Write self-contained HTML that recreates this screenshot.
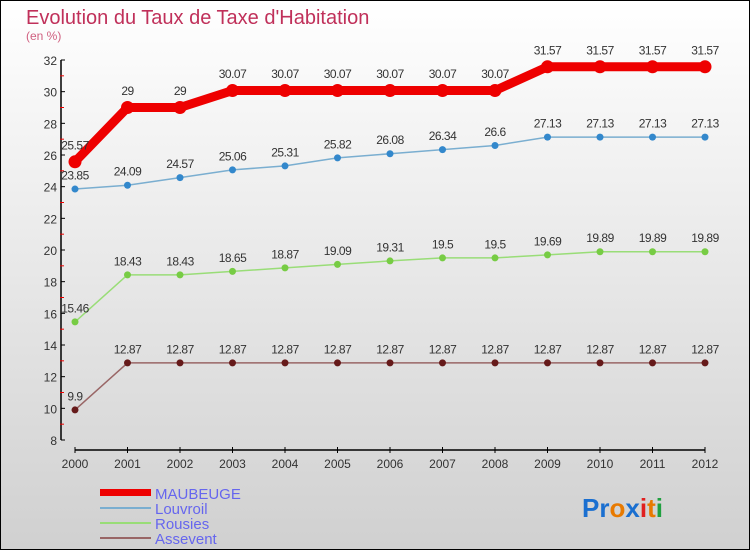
<!DOCTYPE html>
<html><head><meta charset="utf-8"><style>
body{margin:0}
#c{width:750px;height:550px;position:relative;overflow:hidden}
</style></head><body>
<div id="c">
<svg id="s" width="750" height="550" xmlns="http://www.w3.org/2000/svg" font-family="Liberation Sans, sans-serif">
<defs><linearGradient id="bg" x1="0" y1="0" x2="0" y2="1"><stop offset="0" stop-color="#ffffff"/><stop offset="1" stop-color="#d0d0d0"/></linearGradient></defs>
<rect x="0.5" y="0.5" width="749" height="549" fill="url(#bg)" stroke="#000"/>
<text x="26" y="24" font-size="20" fill="#c0305a">Evolution du Taux de Taxe d'Habitation</text>
<text x="26" y="40" font-size="12" fill="#d06080">(en %)</text>
<g id="axes"></g><g id="series"></g>
<g>
<rect x="100" y="489" width="51" height="7" fill="#ee0000"/>
<text x="155" y="499" font-size="15" fill="#6666ee">MAUBEUGE</text>
<line x1="100" y1="508" x2="151" y2="508" stroke="#7aaed0" stroke-width="2"/>
<text x="155" y="514" font-size="15" fill="#6666ee">Louvroil</text>
<line x1="100" y1="523" x2="151" y2="523" stroke="#99dd77" stroke-width="2"/>
<text x="155" y="529" font-size="15" fill="#6666ee">Rousies</text>
<line x1="100" y1="538" x2="151" y2="538" stroke="#996666" stroke-width="2"/>
<text x="155" y="544" font-size="15" fill="#6666ee">Assevent</text>
</g>
<g font-size="26" font-weight="bold">
<text x="582" y="517"><tspan fill="#1a6fd0">Pr</tspan><tspan fill="#e87a00">o</tspan><tspan fill="#1a6fd0">x</tspan><tspan fill="#e02020">i</tspan><tspan fill="#e87a00">t</tspan><tspan fill="#20a040">i</tspan></text>
</g>
</svg></div>
<script>
const years=[2000,2001,2002,2003,2004,2005,2006,2007,2008,2009,2010,2011,2012];
const maubeuge=[25.57,29,29,30.07,30.07,30.07,30.07,30.07,30.07,31.57,31.57,31.57,31.57];
const louvroil=[23.85,24.09,24.57,25.06,25.31,25.82,26.08,26.34,26.6,27.13,27.13,27.13,27.13];
const rousies=[15.46,18.43,18.43,18.65,18.87,19.09,19.31,19.5,19.5,19.69,19.89,19.89,19.89];
const assevent=[9.9,12.87,12.87,12.87,12.87,12.87,12.87,12.87,12.87,12.87,12.87,12.87,12.87];
const yTicks=[8,10,12,14,16,18,20,22,24,26,28,30,32];
const NS='http://www.w3.org/2000/svg';
const x=i=>75+i*(630/(years.length-1));
const y=v=>440-(v-8)*(380/24);
function mk(t,a,p){const e=document.createElementNS(NS,t);for(const k in a)e.setAttribute(k,a[k]);p.appendChild(e);return e;}
const ax=document.getElementById('axes');
const ya=mk('line',{x1:61,y1:60,x2:61,y2:440,stroke:'#000','stroke-width':1.5},ax);


const xa=mk('line',{x1:75,y1:450,x2:705,y2:450,stroke:'#000','stroke-width':1.5},ax);


yTicks.forEach((v,k)=>{
  mk('line',{x1:61,y1:y(v),x2:65,y2:y(v),stroke:'#000'},ax);
  if(k<yTicks.length-1) mk('line',{x1:60,y1:y(v+1),x2:64,y2:y(v+1),stroke:'#e00'},ax);
  const t=mk('text',{x:57,y:y(v)+5,'font-size':12,'text-anchor':'end',fill:'#333'},ax);
  
  
  t.textContent=v;
});
years.forEach((yr,i)=>{
  mk('line',{x1:x(i),y1:447,x2:x(i),y2:453,stroke:'#000'},ax);
  const t=mk('text',{x:x(i),y:468,'font-size':12,'text-anchor':'middle',fill:'#333'},ax);
  
  
  t.textContent=yr;
});
const sg=document.getElementById('series');
function series(name,data,color,w,r,dot){
  const g=mk('g',{},sg);
  
  
  mk('polyline',{points:data.map((v,i)=>x(i)+','+y(v)).join(' '),fill:'none',stroke:color,'stroke-width':w,'stroke-linejoin':'round'},g);
  data.forEach((v,i)=>{
    const c=mk('circle',{cx:x(i),cy:y(v),r:r,fill:dot},g);
    
    
    const t=mk('text',{x:x(i),y:y(v)-(r+6),'font-size':12,'text-anchor':'middle',fill:'#333','letter-spacing':'-0.5'},g);
    
    
    t.textContent=v;
  });
}
series('assevent',assevent,'#996666',1.5,3.5,'#661a1a');
series('rousies',rousies,'#99dd77',1.5,3.5,'#77cc44');
series('louvroil',louvroil,'#7aaed0',1.5,3.5,'#3388cc');
series('maubeuge',maubeuge,'#ee0000',9,6.5,'#ee0000');
</script>
</body></html>
